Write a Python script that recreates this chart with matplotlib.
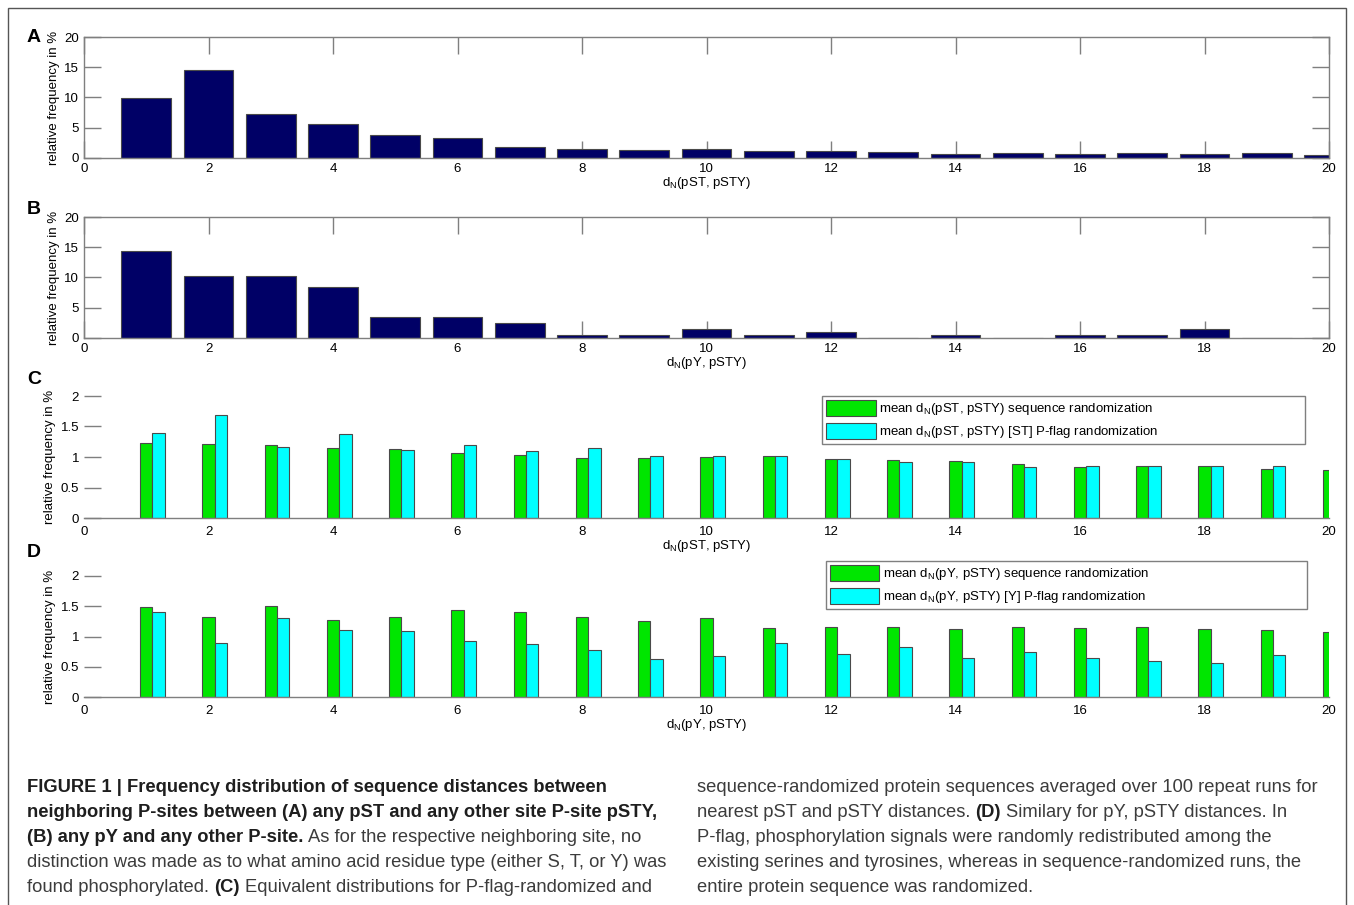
import numpy as np
import matplotlib
matplotlib.use('Agg')
import matplotlib.pyplot as plt
from matplotlib.patches import Rectangle

plt.rcParams['font.family'] = ['Liberation Sans', 'DejaVu Sans']
plt.rcParams['mathtext.fontset'] = 'custom'
plt.rcParams['mathtext.rm'] = 'Liberation Sans'
plt.rcParams['mathtext.it'] = 'Liberation Sans:italic'
plt.rcParams['mathtext.bf'] = 'Liberation Sans:bold'

# ---------------- data
dist = np.arange(1, 21)

# A: pST -> pSTY, B: pY -> pSTY (relative frequency in %)
freq_pst = [9.9, 14.5, 7.2, 5.7, 3.75, 3.35, 1.77, 1.43, 1.39, 1.55,
            1.22, 1.22, 1.0, 0.73, 0.9, 0.73, 0.83, 0.6, 0.9, 0.5]
freq_py = [14.3, 10.3, 10.3, 8.35, 3.5, 3.5, 2.5, 0.5, 0.5, 1.53,
           0.5, 1.0, 0, 0.5, 0, 0.5, 0.5, 1.53, 0, 0]

# C: randomized pST
seq_st = [1.23, 1.21, 1.19, 1.15, 1.13, 1.06, 1.04, 0.99, 0.99, 1.0,
          1.01, 0.97, 0.95, 0.93, 0.885, 0.83, 0.85, 0.85, 0.81, 0.79]
flag_st = [1.40, 1.69, 1.16, 1.37, 1.11, 1.19, 1.10, 1.14, 1.02, 1.02,
           1.01, 0.96, 0.92, 0.91, 0.84, 0.86, 0.86, 0.86, 0.86, np.nan]

# D: randomized pY
seq_y = [1.49, 1.32, 1.50, 1.28, 1.32, 1.43, 1.40, 1.32, 1.25, 1.30,
         1.14, 1.15, 1.15, 1.12, 1.15, 1.14, 1.16, 1.12, 1.10, 1.08]
flag_y = [1.40, 0.90, 1.30, 1.11, 1.09, 0.92, 0.88, 0.77, 0.63, 0.67,
          0.90, 0.71, 0.82, 0.65, 0.74, 0.65, 0.59, 0.56, 0.70, np.nan]

xlab_st = r'd$_{\mathrm{N}}$(pST, pSTY)'
xlab_y = r'd$_{\mathrm{N}}$(pY, pSTY)'
leg_c = [r'mean d$_{\mathrm{N}}$(pST, pSTY) sequence randomization',
         r'mean d$_{\mathrm{N}}$(pST, pSTY) [ST] P-flag randomization']
leg_d = [r'mean d$_{\mathrm{N}}$(pY, pSTY) sequence randomization',
         r'mean d$_{\mathrm{N}}$(pY, pSTY) [Y] P-flag randomization']

NAVY = '#000066'
GREEN = '#00e600'
CYAN = '#00ffff'
EDGE = '#4a4a4a'
AXC = '#7f7f7f'
FS = 9.5

W, H = 1354, 905
fig = plt.figure(figsize=(W / 100, H / 100), dpi=100)


def add_ax(top, bottom):
    return fig.add_axes([84 / W, 1 - bottom / H, 1245 / W, (bottom - top) / H])


def style_common(ax, xlabel):
    ax.set_axisbelow(True)
    ax.set_xlim(0, 20)
    ax.set_xticks(np.arange(0, 21, 2))
    ax.set_xlabel(xlabel, fontsize=FS, labelpad=0)
    ax.set_ylabel('relative frequency in %', fontsize=FS, labelpad=3)
    for s in ax.spines.values():
        s.set_color(AXC)
        s.set_linewidth(1)


# ---------------- A and B: plain histograms, boxed axes
for top, bottom, vals, xl in [(37, 158, freq_pst, xlab_st),
                              (217, 338, freq_py, xlab_y)]:
    ax = add_ax(top, bottom)
    ax.bar(dist, vals, width=0.8, color=NAVY, edgecolor=EDGE, linewidth=0.8)
    style_common(ax, xl)
    ax.set_ylim(0, 20)
    ax.set_yticks([0, 5, 10, 15, 20])
    ax.tick_params(direction='in', length=12, width=1, color=AXC,
                   top=True, right=True, labelsize=FS, pad=3.5)

# ---------------- C and D: grouped bars, only the x axis line
for top, bottom, g, c, xl, labs, bbox in [
        (396, 518, seq_st, flag_st, xlab_st, leg_c, (0.593, 0.55, 0.388, 0.45)),
        (576, 697, seq_y, flag_y, xlab_y, leg_d, (0.596, 0.70, 0.386, 0.424))]:
    ax = add_ax(top, bottom)
    b1 = ax.bar(dist, g, width=0.2, color=GREEN, edgecolor=EDGE, linewidth=0.8)
    b2 = ax.bar(dist + 0.2, c, width=0.2, color=CYAN, edgecolor=EDGE, linewidth=0.8)
    style_common(ax, xl)
    ax.set_ylim(0, 2)
    ax.set_yticks([0, 0.5, 1, 1.5, 2])
    ax.set_yticklabels(['0', '0.5', '1', '1.5', '2'])
    for s in ['top', 'right', 'left']:
        ax.spines[s].set_visible(False)
    ax.tick_params(axis='y', direction='in', length=12, width=1, color=AXC,
                   labelsize=FS, pad=3.5)
    ax.tick_params(axis='x', length=0, labelsize=FS, pad=6)
    leg = ax.legend([b1, b2], labs, loc='upper left', bbox_to_anchor=bbox,
                    mode='expand', fontsize=FS, handlelength=3.75,
                    handleheight=1.5, labelspacing=0.4, handletextpad=0.25,
                    borderpad=0.3, borderaxespad=0, fancybox=False,
                    framealpha=1, edgecolor=AXC)
    leg.get_frame().set_linewidth(1)

# panel letters
for letter, y in [('A', 37), ('B', 209), ('C', 379), ('D', 552)]:
    fig.text(27 / W, 1 - y / H, letter, fontsize=14, fontweight='bold',
             va='center', ha='left')

# outer frame
fig.patches.append(Rectangle((8 / W, -0.02), 1338 / W, 1 - 8 / H + 0.02,
                             transform=fig.transFigure, fill=False,
                             edgecolor='#555555', linewidth=1))

# ---------------- caption, two columns with mixed weights
CAP_FAMILY = ['Liberation Sans', 'DejaVu Sans']
CAP_FS = 13.2
renderer = fig.canvas.get_renderer()


def text_w(s, weight):
    t = fig.text(0, 0, s, fontsize=CAP_FS, family=CAP_FAMILY, fontweight=weight)
    w = t.get_window_extent(renderer).width
    t.remove()
    return w


space_w = {wt: text_w('a a', wt) - text_w('aa', wt) for wt in ('bold', 'normal')}


def caption_line(x, y, parts):
    for s, bold in parts:
        wt = 'bold' if bold else 'normal'
        t = fig.text(x / W, 1 - y / H, s, fontsize=CAP_FS, family=CAP_FAMILY,
                     fontweight=wt, va='center', ha='left',
                     color='#1e1e1e' if bold else '#3c3c3c')
        x += t.get_window_extent(renderer).width + space_w[wt]


left_col = [
    [('FIGURE 1 | Frequency distribution of sequence distances between', True)],
    [('neighboring P-sites between (A) any pST and any other site P-site pSTY,', True)],
    [('(B) any pY and any other P-site.', True),
     ('As for the respective neighboring site, no', False)],
    [('distinction was made as to what amino acid residue type (either S, T, or Y) was', False)],
    [('found phosphorylated.', False), ('(C)', True),
     ('Equivalent distributions for P-flag-randomized and', False)],
]
right_col = [
    [('sequence-randomized protein sequences averaged over 100 repeat runs for', False)],
    [('nearest pST and pSTY distances.', False), ('(D)', True),
     ('Similary for pY, pSTY distances. In', False)],
    [('P-flag, phosphorylation signals were randomly redistributed among the', False)],
    [('existing serines and tyrosines, whereas in sequence-randomized runs, the', False)],
    [('entire protein sequence was randomized.', False)],
]
for i, parts in enumerate(left_col):
    caption_line(27, 787 + 25 * i, parts)
for i, parts in enumerate(right_col):
    caption_line(697, 787 + 25 * i, parts)

fig.savefig('out.png', dpi=100)
